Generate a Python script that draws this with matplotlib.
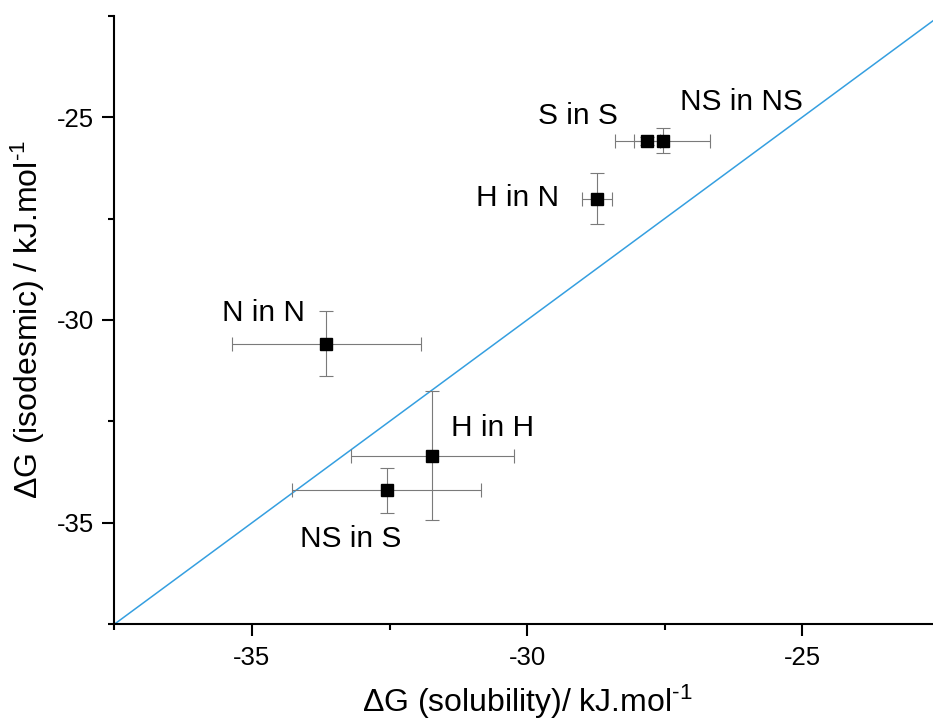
import matplotlib
matplotlib.use("Agg")
import matplotlib.pyplot as plt
from matplotlib.ticker import MultipleLocator

plt.rcParams['font.family'] = ['Liberation Sans', 'DejaVu Sans']
plt.rcParams['mathtext.fontset'] = 'custom'
plt.rcParams['mathtext.rm'] = 'Liberation Sans'
plt.rcParams['mathtext.it'] = 'Liberation Sans'
plt.rcParams['axes.unicode_minus'] = False

# Data
labels = ["S in S", "NS in NS", "H in N", "N in N", "H in H", "NS in S"]
dg_solubility = [-27.82, -27.54, -28.73, -33.65, -31.72, -32.55]
dg_isodesmic = [-25.59, -25.58, -27.01, -30.59, -33.35, -34.20]
err_solubility = [0.23, 0.86, 0.28, 1.72, 1.48, 1.72]
err_isodesmic = [0.10, 0.30, 0.63, 0.80, 1.59, 0.55]
label_x = [-29.07, -26.10, -30.18, -34.79, -30.62, -33.21]
label_y = [-25.18, -24.83, -27.20, -30.02, -32.86, -35.59]
ref_line = [-37.5, -22.5]

fig = plt.figure(figsize=(9.33, 7.27), dpi=100)
ax = fig.add_axes([0.1225, 0.1413, 0.885, 0.8372])

ax.plot(ref_line, ref_line, color='#359fe0', lw=1.1, zorder=2)

ax.errorbar(dg_solubility, dg_isodesmic, xerr=err_solubility, yerr=err_isodesmic,
            fmt='s', color='black', ms=8.5, ecolor='#7a7a7a', elinewidth=0.8,
            capsize=5, capthick=0.8, zorder=3)

for lab, lx, ly in zip(labels, label_x, label_y):
    ax.text(lx, ly, lab, fontsize=21.5, ha='center', va='baseline')

ax.set_xlim(-37.5, -22.5)
ax.set_ylim(-37.5, -22.5)
ax.xaxis.set_major_locator(MultipleLocator(5))
ax.xaxis.set_minor_locator(MultipleLocator(2.5))
ax.yaxis.set_major_locator(MultipleLocator(5))
ax.yaxis.set_minor_locator(MultipleLocator(2.5))

ax.spines['top'].set_visible(False)
ax.spines['right'].set_visible(False)
ax.spines['left'].set_linewidth(1.5)
ax.spines['bottom'].set_linewidth(1.5)
ax.tick_params(which='major', direction='out', length=8.5, width=1.5,
               labelsize=18.5, pad=6)
ax.tick_params(axis='x', which='major', pad=7)
ax.tick_params(which='minor', direction='out', length=4.5, width=1.5)

ax.set_xlabel(r'$\Delta$G (solubility)/ kJ.mol$^{\text{-}1}$', fontsize=23, labelpad=9)
ax.set_ylabel(r'$\Delta$G (isodesmic) / kJ.mol$^{\text{-}1}$', fontsize=23, labelpad=7)

for sp in ax.spines.values():
    sp.set_clip_on(False)

fig.savefig('out.png', dpi=100)
